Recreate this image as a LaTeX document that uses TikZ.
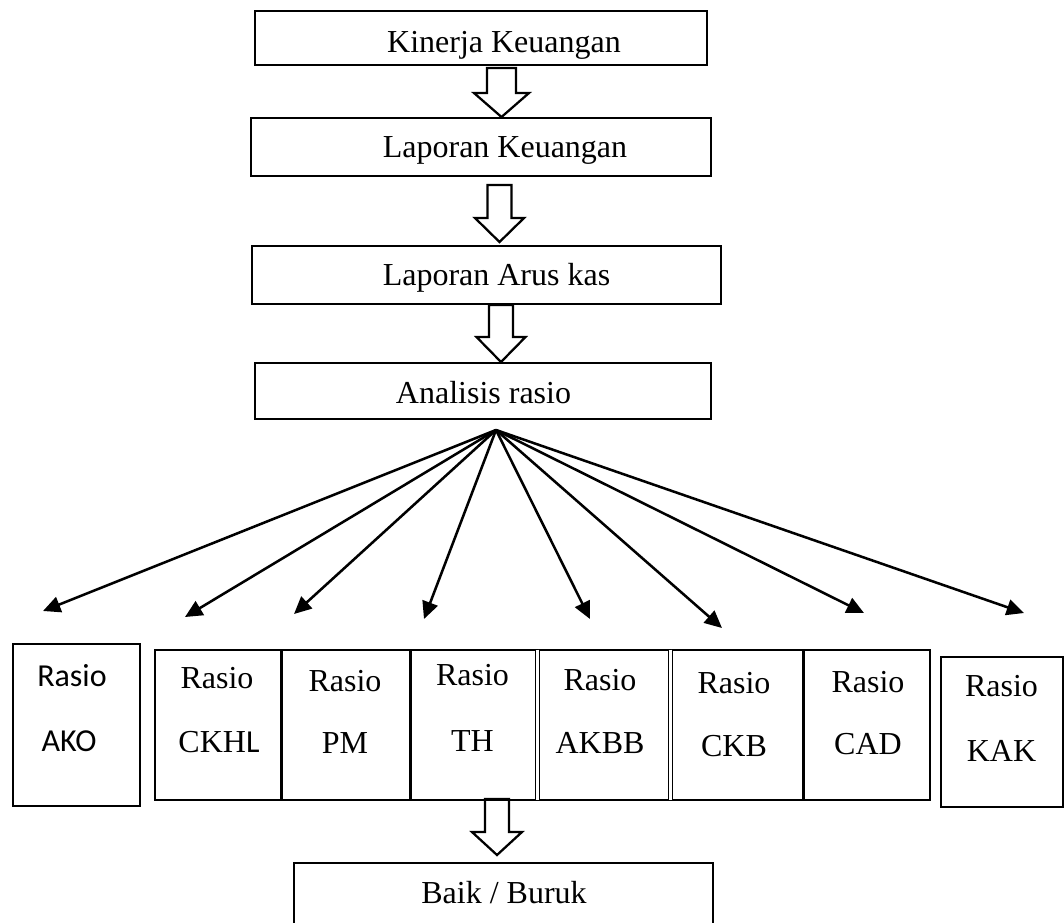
\documentclass[tikz,border=0pt]{standalone}
\usepackage{fontspec}
\setmainfont{Liberation Serif}
\newfontfamily\calibri{Carlito}
\usetikzlibrary{arrows.meta,calc,fit}

% hollow block arrow: centre x, top y, y where the head starts, tip y, half shaft width, half head width
\newcommand\hollowarrow[6]{%
  \draw[blockarrow] (#1-#5,#2) -- (#1+#5,#2) -- (#1+#5,#3) -- (#1+#6,#3)
    -- (#1,#4) -- (#1-#6,#3) -- (#1-#5,#3) -- cycle;}

\begin{document}
\begin{tikzpicture}[x=0.75pt,y=-0.75pt,
  box/.style={draw, line width=1.9pt, inner sep=0pt},
  sidebox/.style={draw, line width=1.6pt, inner sep=0pt},
  cellarea/.style={inner sep=0pt},
  lbl/.style={inner sep=0pt, anchor=base, font=\fontsize{24pt}{28pt}\selectfont},
  sanslbl/.style={lbl, font=\fontsize{24pt}{28pt}\selectfont\calibri},
  blockarrow/.style={draw, line width=1.7pt, line join=miter, fill=white},
  fanarrow/.style={line width=1.9pt, -{Triangle[length=13pt,width=12pt]}},
  divider/.style={line width=1.9pt},
  doubledivider/.style={double, double distance=2.2pt, line width=0.8pt}]

\useasboundingbox (0,0) rectangle (1064,922);

% main chain
\node[box, fit={(255,11) (707,65)}] (kk) {};
\node[lbl] (kkt) at (504,52) {Kinerja Keuangan};
\node[box, fit={(251,118) (711,176)}] (lk) {};
\node[lbl] (lkt) at (505,157) {Laporan Keuangan};
\node[box, fit={(252,246) (721,304)}] (la) {};
\node[lbl] (lat) at (496.5,285) {Laporan Arus kas};
\node[box, fit={(255,363) (711,419)}] (ar) {};
\node[lbl] (art) at (483.5,403) {Analisis rasio};
\node[box, fit={(294,863) (713,926)}] (bb) {};
\node[lbl] (bbt) at (504,903) {Baik / Buruk};

\hollowarrow{501.5}{68}{93}{117}{14.5}{27.5}
\hollowarrow{499.5}{185}{218}{242}{12}{24.5}
\hollowarrow{501}{305}{337}{362}{12}{24.5}
\hollowarrow{497}{799}{832}{855}{12}{25}

% ratio boxes
\node[sidebox, fit={(13,644) (140,806)}] (ako) {};
\node[sanslbl] (akot1) at (72,686) {Rasio};
\node[sanslbl] (akot2) at (69,751) {AKO};

\node[box, fit={(155,650) (930,800)}] (row) {};
\node[cellarea, fit={(155,650) (281,800)}] (ckhl) {};
\node[cellarea, fit={(281,650) (410,800)}] (pm) {};
\node[cellarea, fit={(410,650) (537,800)}] (th) {};
\node[cellarea, fit={(537,650) (670,800)}] (akbb) {};
\node[cellarea, fit={(670,650) (803,800)}] (ckb) {};
\node[cellarea, fit={(803,650) (930,800)}] (cad) {};
\draw[divider] (ckhl.north east) -- (ckhl.south east);
\draw[divider] (pm.north east) -- (pm.south east);
\draw[doubledivider] (th.north east) -- (th.south east);
\draw[doubledivider] (akbb.north east) -- (akbb.south east);
\draw[divider] (ckb.north east) -- (ckb.south east);

\node[lbl] (ckhlt1) at (217,688) {Rasio};
\node[lbl] (ckhlt2) at (219,752) {CKH{\calibri L}};
\node[lbl] (pmt1) at (345,691) {Rasio};
\node[lbl] (pmt2) at (345,753) {PM};
\node[lbl] (tht1) at (472.5,685) {Rasio};
\node[lbl] (tht2) at (472.5,751) {TH};
\node[lbl] (akbbt1) at (600,690) {Rasio};
\node[lbl] (akbbt2) at (600,753) {AKBB};
\node[lbl] (ckbt1) at (734,693) {Rasio};
\node[lbl] (ckbt2) at (734,756) {CKB};
\node[lbl] (cadt1) at (868,692) {Rasio};
\node[lbl] (cadt2) at (868,754) {CAD};

\node[sidebox, fit={(941,657) (1063,807)}] (kak) {};
\node[lbl] (kakt1) at (1001.5,696) {Rasio};
\node[lbl] (kakt2) at (1001.5,761) {KAK};

% fan of arrows below the analysis box
\coordinate (fan) at (496,430);
\coordinate (t1) at (43,611);
\coordinate (t2) at (185,617);
\coordinate (t3) at (294,614);
\coordinate (t4) at (424,619);
\coordinate (t5) at (590,619);
\coordinate (t6) at (722,628);
\coordinate (t7) at (864,613);
\coordinate (t8) at (1024,613);
\foreach \t in {t1,t2,t3,t4,t5,t6,t7,t8}
  \draw[fanarrow] (fan) -- (\t);

\end{tikzpicture}
\end{document}
